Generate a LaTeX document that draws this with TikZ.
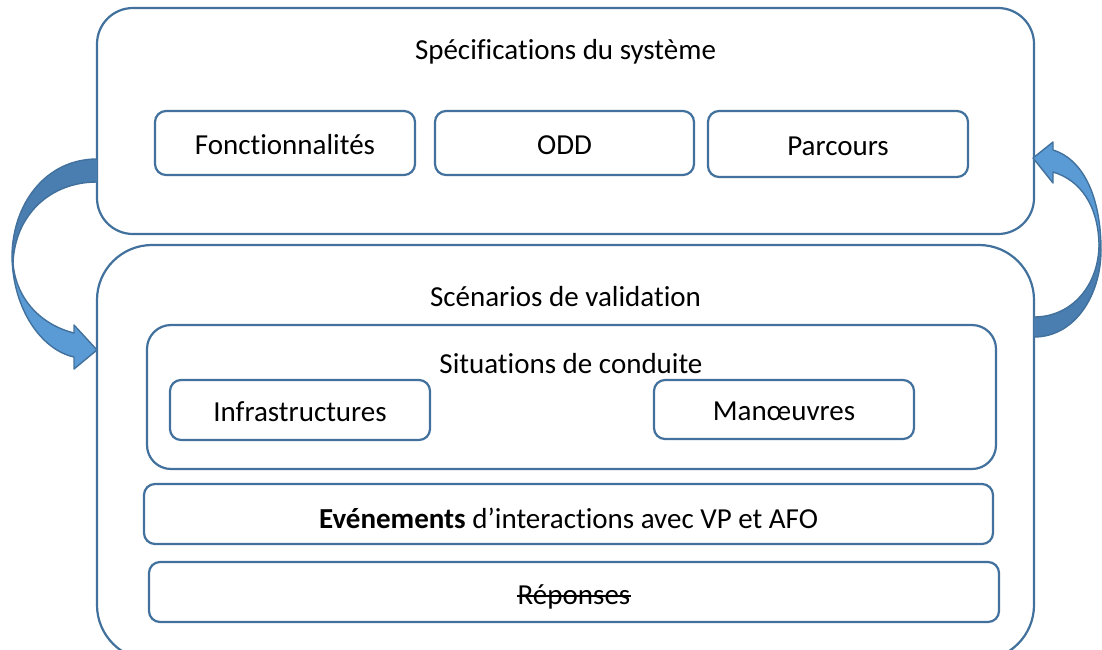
\documentclass[tikz,border=0pt]{standalone}
\usepackage{fontspec}
\setmainfont[Ligatures=NoCommon]{Carlito}
\definecolor{edgeblue}{RGB}{65,113,156}
\definecolor{frontblue}{RGB}{91,155,213}
\definecolor{backblue}{RGB}{74,126,176}
\tikzset{
  panel/.style={draw=edgeblue, line width=2.2pt, fill=white, inner sep=0pt},
  label/.style={inner sep=0pt, font=\fontsize{29}{34}\selectfont, text=black},
  arrowpart/.style={draw=edgeblue, line width=1.4pt, line join=round},
}
\begin{document}
\begin{tikzpicture}[x=1pt, y=-1pt]
  \useasboundingbox (0,0) rectangle (1102,649);
  \clip (0,0) rectangle (1102,649);

  % upper panel: system specification
  \node[panel, rounded corners=36pt, minimum width=937pt, minimum height=226pt] (spec) at (565.5,121) {};
  \node[label] (spectitle) at (565.5,52) {Spécifications du système};
  \node[panel, rounded corners=11pt, minimum width=260pt, minimum height=64pt] (fonc) at (285,143) {};
  \node[label] at ([yshift=-2pt]fonc.center) {Fonctionnalités};
  \node[panel, rounded corners=11pt, minimum width=259pt, minimum height=64pt] (odd) at (564.5,143) {};
  \node[label] at ([yshift=-2pt]odd.center) {ODD};
  \node[panel, rounded corners=11pt, minimum width=260pt, minimum height=66pt] (parc) at (838,144) {};
  \node[label] at ([yshift=-2pt]parc.center) {Parcours};

  % lower panel: validation scenarios
  \node[panel, rounded corners=55pt, minimum width=937pt, minimum height=415pt] (valid) at (565.5,452.5) {};
  \node[label] (validtitle) at (565.5,297) {Scénarios de validation};
  \node[panel, rounded corners=24pt, minimum width=849pt, minimum height=144pt] (sit) at (571.5,397) {};
  \node[label] (sittitle) at (571,364) {Situations de conduite};
  \node[panel, rounded corners=11pt, minimum width=260pt, minimum height=60pt] (infra) at (300,410) {};
  \node[label] at ([yshift=-2pt]infra.center) {Infrastructures};
  \node[panel, rounded corners=11pt, minimum width=260pt, minimum height=59pt] (man) at (784,409.5) {};
  \node[label] at ([yshift=-2pt]man.center) {Manœuvres};
  \node[panel, rounded corners=11pt, minimum width=849pt, minimum height=60pt] (evt) at (568.5,514) {};
  \node[label] at ([yshift=-4pt]evt.center) {\textbf{Evénements} d’interactions avec VP et AFO};
  \node[panel, rounded corners=11pt, minimum width=850pt, minimum height=60pt] (rep) at (574,592) {};
  \node[label, anchor=base] (reptext) at (574,604) {Réponses};
  % struck-through label
  \draw[line width=1.8pt] ([xshift=-1pt,yshift=8pt]reptext.base west) -- ([xshift=1pt,yshift=8pt]reptext.base east);

  % curved arrow from the specification panel down to the scenarios
  \fill[backblue] (97,159) .. controls (45,159) and (12,205) .. (12,257)
    -- (13,263) .. controls (15,215) and (50,182) .. (97,182) -- cycle;
  \draw[arrowpart] (97,159) .. controls (45,159) and (12,205) .. (12,257)
    (13,263) .. controls (15,215) and (50,182) .. (97,182);
  \filldraw[arrowpart, fill=frontblue] (12,257) .. controls (13,310) and (42,350) .. (74,357)
    -- (74,369) -- (97,350) -- (74,325) -- (74,333)
    .. controls (42,325) and (16,300) .. (13,263) -- cycle;

  % curved arrow from the scenarios back up to the specification panel
  \fill[backblue] (1034,337) .. controls (1075,337) and (1101,295) .. (1101,250)
    -- (1099,244) .. controls (1099,285) and (1072,317) .. (1034,317) -- cycle;
  \draw[arrowpart] (1034,337) .. controls (1075,337) and (1101,295) .. (1101,250)
    (1099,244) .. controls (1099,285) and (1072,317) .. (1034,317);
  \filldraw[arrowpart, fill=frontblue] (1101,250) .. controls (1101,200) and (1085,160) .. (1053,150)
    -- (1053,142) -- (1033,158) -- (1053,183) -- (1053,172)
    .. controls (1080,180) and (1098,205) .. (1099,244) -- cycle;
\end{tikzpicture}
\end{document}
